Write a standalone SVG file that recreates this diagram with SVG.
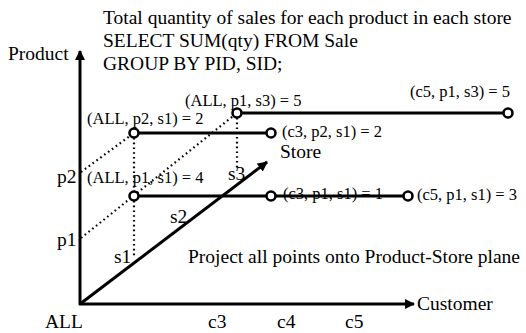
<svg xmlns="http://www.w3.org/2000/svg" width="526" height="333" viewBox="0 0 526 333">
<defs>
<style>
text{font-family:"Liberation Serif","Times New Roman",serif;fill:#000}
.big{font-size:19.5px}
.lab{font-size:16.5px}
.axis{stroke:#000;stroke-width:3;fill:none}
.solid{stroke:#000;stroke-width:3;fill:none}
.dot{stroke:#000;stroke-width:2.2;fill:none;stroke-dasharray:1.6 3.2}
.pt{fill:#fff;stroke:#000;stroke-width:2.6}
</style>
<marker id="ah" viewBox="0 0 10 10" refX="9" refY="5" markerWidth="3.4" markerHeight="3.4" orient="auto" markerUnits="strokeWidth">
<path d="M0,0 L10,5 L0,10 z" fill="#000"/>
</marker>
</defs>
<rect width="526" height="333" fill="#fff"/>
<g id="title">
<text class="big" x="103" y="24">Total quantity of sales for each product in each store</text>
<text class="big" x="103" y="47">SELECT SUM(qty) FROM Sale</text>
<text class="big" x="103" y="70">GROUP BY PID, SID;</text>
</g>
<g id="axes">
<line class="axis" x1="80" y1="305" x2="80" y2="51" marker-end="url(#ah)"/>
<line class="axis" x1="79" y1="304" x2="414" y2="304" marker-end="url(#ah)"/>
<line class="axis" x1="80" y1="304" x2="267" y2="162" marker-end="url(#ah)"/>
<text class="big" x="8" y="60">Product</text>
<text class="big" x="417" y="310">Customer</text>
<text class="big" x="280" y="158">Store</text>
<text class="big" x="45" y="328">ALL</text>
<text class="big" x="208" y="328">c3</text>
<text class="big" x="277" y="328">c4</text>
<text class="big" x="345" y="328">c5</text>
<text class="big" x="57" y="183">p2</text>
<text class="big" x="57" y="246">p1</text>
<text class="big" x="114" y="263">s1</text>
<text class="big" x="170" y="223">s2</text>
<text class="big" x="228" y="180">s3</text>
</g>
<g id="connectors">
<line class="dot" x1="81" y1="172" x2="134" y2="133"/>
<line class="dot" x1="81" y1="238" x2="237" y2="113"/>
<line class="dot" x1="134" y1="133" x2="134" y2="196"/>
<line class="dot" x1="134" y1="196" x2="134" y2="256"/>
<line class="dot" x1="237" y1="113" x2="237" y2="171"/>
<line class="solid" x1="237" y1="113" x2="508" y2="113"/>
<line class="solid" x1="134" y1="133" x2="271" y2="133"/>
<line class="solid" x1="134" y1="196" x2="408" y2="196"/>
</g>
<g id="n-all-p1-s3"><circle class="pt" cx="237" cy="113" r="4.5"/><text class="lab" x="185" y="106">(ALL, p1, s3) = 5</text></g>
<g id="n-c5-p1-s3"><circle class="pt" cx="508" cy="113" r="4.5"/><text class="lab" x="410" y="97">(c5, p1, s3) = 5</text></g>
<g id="n-all-p2-s1"><circle class="pt" cx="134" cy="133" r="4.5"/><text class="lab" x="87" y="124">(ALL, p2, s1) = 2</text></g>
<g id="n-c3-p2-s1"><circle class="pt" cx="271" cy="133" r="4.5"/><text class="lab" x="282" y="137">(c3, p2, s1) = 2</text></g>
<g id="n-all-p1-s1"><circle class="pt" cx="134" cy="196" r="4.5"/><text class="lab" x="87" y="183">(ALL, p1, s1) = 4</text></g>
<g id="n-c3-p1-s1"><circle class="pt" cx="271" cy="196" r="4.5"/><text class="lab" x="283" y="199">(c3, p1, s1) = 1</text></g>
<g id="n-c5-p1-s1"><circle class="pt" cx="408" cy="196" r="4.5"/><text class="lab" x="417" y="200">(c5, p1, s1) = 3</text></g>
<g id="note"><text class="big" x="188" y="263">Project all points onto Product-Store plane</text></g>
</svg>
